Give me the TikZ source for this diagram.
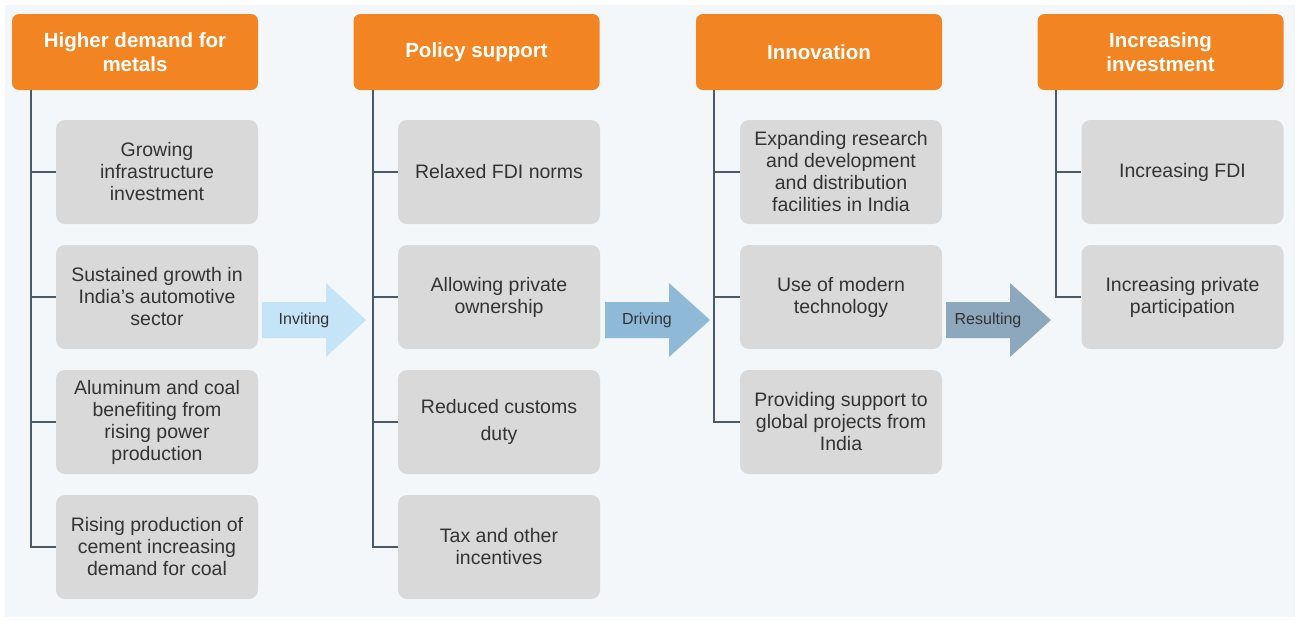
\documentclass[tikz,border=0pt]{standalone}
\usepackage{fontspec}
\setmainfont{Liberation Sans}
\usetikzlibrary{positioning}

\definecolor{hdorange}{HTML}{F28522}
\definecolor{boxgray}{HTML}{D9D9D9}
\definecolor{bgpale}{HTML}{F3F7FA}
\definecolor{txtdark}{HTML}{333333}
\definecolor{linegray}{HTML}{4A5A66}
\definecolor{arlight}{HTML}{C6E4F7}
\definecolor{armid}{HTML}{8EBAD8}
\definecolor{ardark}{HTML}{8DA8BD}

\tikzset{
  header/.style = {fill=hdorange, rounded corners=7pt, minimum width=246pt, minimum height=76pt,
    text=white, align=center, font=\fontsize{20.5}{23.5}\selectfont\bfseries},
  item/.style = {fill=boxgray, rounded corners=9pt, minimum width=202pt, minimum height=104pt,
    text=txtdark, align=center, font=\fontsize{19.5}{22}\selectfont},
  branch/.style = {draw=linegray, line width=1.1pt},
  arlabel/.style = {text=txtdark, font=\fontsize{16}{18}\selectfont}
}

\begin{document}
\begin{tikzpicture}[x=1pt, y=-1pt]
	\useasboundingbox (0,0) rectangle (1300,622);
	\fill [bgpale] (5,5) rectangle (1295,617);

	% headers
	\node [header] (h1) at (135,52) {Higher demand for\\metals};
	\node [header] (h2) at (476.5,52) {Policy support};
	\node [header] (h3) at (819,52) {Innovation};
	\node [header] (h4) at (1160.5,52) {Increasing\\investment};

	% first column
	\node [item] (b11) at (157,172) {Growing\\infrastructure\\investment};
	\node [item] (b12) at (157,297) {Sustained growth in\\India's automotive\\sector};
	\node [item] (b13) at (157,422) {Aluminum and coal\\benefiting from\\rising power\\production};
	\node [item] (b14) at (157,547) {Rising production of\\cement increasing\\demand for coal};

	% second column
	\node [item] (b21) at (499,172) {Relaxed FDI norms};
	\node [item] (b22) at (499,297) {Allowing private\\ownership};
	\node [item] (b23) at (499,422) {Reduced customs\\[5pt] duty};
	\node [item] (b24) at (499,547) {Tax and other\\incentives};

	% third column
	\node [item] (b31) at (841,172) {Expanding research\\and development\\and distribution\\facilities in India};
	\node [item] (b32) at (841,297) {Use of modern\\technology};
	\node [item] (b33) at (841,422) {Providing support to\\global projects from\\India};

	% fourth column
	\node [item] (b41) at (1182.5,172) {Increasing FDI};
	\node [item] (b42) at (1182.5,297) {Increasing private\\participation};

	% branches
	\coordinate (s1) at (31,90);
	\coordinate (s2) at (373,90);
	\coordinate (s3) at (714,90);
	\coordinate (s4) at (1056,90);
	\draw [branch] (s1) |- (b11.west);
	\draw [branch] (s1) |- (b12.west);
	\draw [branch] (s1) |- (b13.west);
	\draw [branch] (s1) |- (b14.west);
	\draw [branch] (s2) |- (b21.west);
	\draw [branch] (s2) |- (b22.west);
	\draw [branch] (s2) |- (b23.west);
	\draw [branch] (s2) |- (b24.west);
	\draw [branch] (s3) |- (b31.west);
	\draw [branch] (s3) |- (b32.west);
	\draw [branch] (s3) |- (b33.west);
	\draw [branch] (s4) |- (b41.west);
	\draw [branch] (s4) |- (b42.west);

	% arrows between columns
	\fill [arlight] (262,302) -- (326,302) -- (326,283) -- (366,320) -- (326,357) -- (326,338) -- (262,338) -- cycle;
	\fill [armid] (605,302) -- (669,302) -- (669,283) -- (710,320) -- (669,357) -- (669,338) -- (605,338) -- cycle;
	\fill [ardark] (946,302) -- (1010,302) -- (1010,283) -- (1051,320) -- (1010,357) -- (1010,338) -- (946,338) -- cycle;
	\node [arlabel] (l1) at (304,320) {Inviting};
	\node [arlabel] (l2) at (647,320) {Driving};
	\node [arlabel] (l3) at (988,320) {Resulting};
\end{tikzpicture}
\end{document}
